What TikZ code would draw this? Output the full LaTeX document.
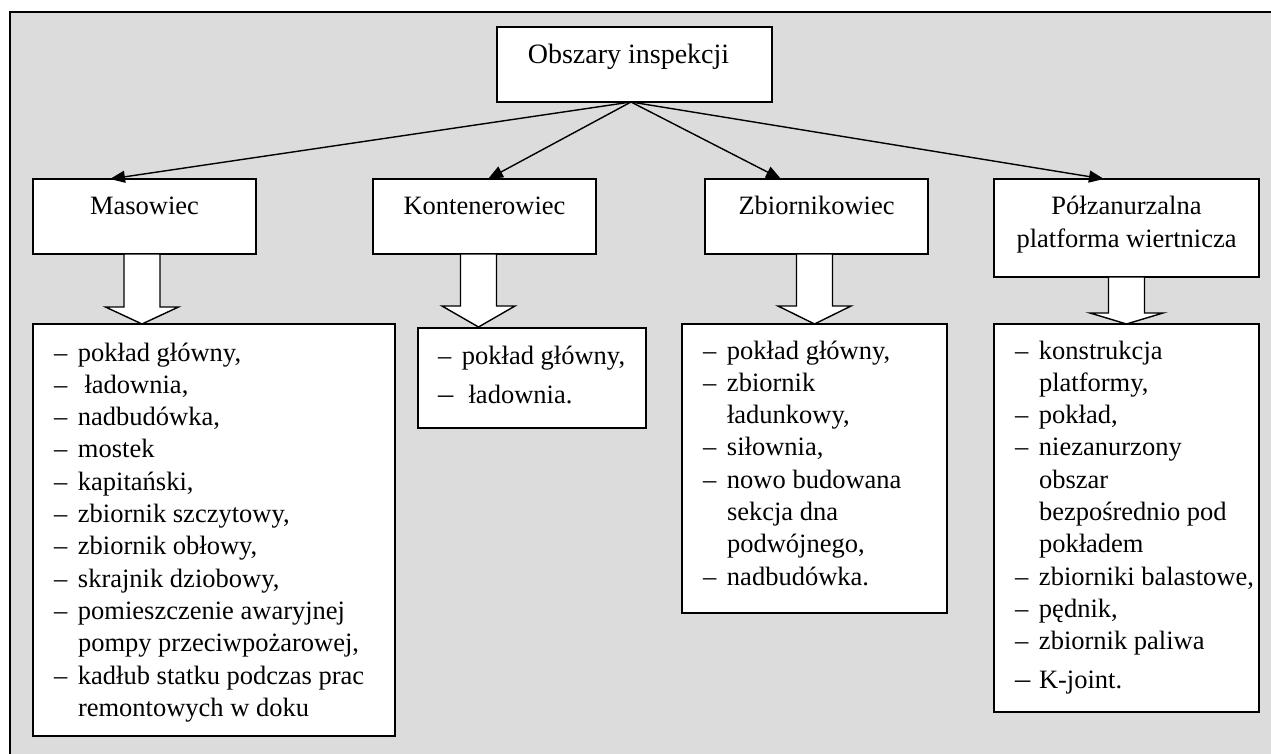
\documentclass[tikz,border=0pt]{standalone}
\usepackage{fontspec}
\setmainfont{Liberation Serif}
\usetikzlibrary{arrows.meta,calc}
\definecolor{bg}{RGB}{220,220,220}
\newcommand{\myfs}{\fontsize{26.5}{32.3}\selectfont}
\newcommand{\mytitlefs}{\fontsize{28}{33}\selectfont}
\newcommand{\dsh}{\makebox[24pt][l]{–}}
\newcommand{\msh}{\makebox[24pt][l]{\scalebox{1.15}[1.1]{–}}}
\newcommand{\ind}{\hspace*{24pt}}
\newcommand{\fatarrow}[3]{\draw[fat] (#1) ++(-18,0) -- ++(36,0) -- ++(0,#2) -- ++(18.5,0) -- ++(-36.5,#3) -- ++(-36.5,-#3) -- ++(18.5,0) -- cycle;}
\begin{document}
\begin{tikzpicture}[x=1pt,y=-1pt,
  box/.style={draw=black,fill=white,line width=1.7pt,inner sep=0pt,outer sep=0pt,anchor=north west},
  txt/.style={inner sep=0pt,outer sep=0pt,anchor=base,font=\myfs},
  listtxt/.style={inner sep=0pt,outer sep=0pt,anchor=base west,font=\myfs},
  conn/.style={line width=1.4pt,-{Triangle[length=15pt,width=12pt]}},
  fat/.style={draw=black,fill=white,line width=1.4pt,line join=miter}]
\useasboundingbox (0,0) rectangle (1271,754);
\clip (0,0) rectangle (1271,754);
\fill[white] (0,0) rectangle (1271,754);
\draw[fill=bg,line width=2pt] (10,12) rectangle (1320,820);
% header boxes
\node[box,minimum width=275pt,minimum height=75pt] (top) at (497,27) {};
\node[box,minimum width=223pt,minimum height=75pt] (hm) at (33,179) {};
\node[box,minimum width=223pt,minimum height=75pt] (hk) at (373,179) {};
\node[box,minimum width=223pt,minimum height=75pt] (hz) at (705,179) {};
\node[box,minimum width=265pt,minimum height=98pt] (hp) at (994,179) {};
% list boxes
\node[box,minimum width=362pt,minimum height=412pt] (lm) at (33,324) {};
\node[box,minimum width=228pt,minimum height=100pt] (lk) at (418,328) {};
\node[box,minimum width=265pt,minimum height=289pt] (lz) at (682,324) {};
\node[box,minimum width=265pt,minimum height=388pt] (lp) at (994,324) {};
% header texts
\node[txt,font=\mytitlefs] (ttop) at (628.5,64) {Obszary inspekcji};
\node[txt] (thm) at (144.5,214.5) {Masowiec};
\node[txt] (thk) at (484.5,214.5) {Kontenerowiec};
\node[txt] (thz) at (816.5,214.5) {Zbiornikowiec};
\node[txt] (thp1) at (1126.5,214.5) {Półzanurzalna};
\node[txt] (thp2) at (1126.5,247.5) {platforma wiertnicza};
% list texts
\node[listtxt] (tlm) at (54,361) {\begin{tabular}[t]{@{}l@{}}
\dsh pokład główny,\\
\dsh\ ładownia,\\
\dsh nadbudówka,\\
\dsh mostek\\
\dsh kapitański,\\
\dsh zbiornik szczytowy,\\
\dsh zbiornik obłowy,\\
\dsh skrajnik dziobowy,\\
\dsh pomieszczenie awaryjnej\\
\ind pompy przeciwpożarowej,\\
\dsh kadłub statku podczas prac\\
\ind remontowych w doku
\end{tabular}};
\node[listtxt] (tlk) at (438,364) {\begin{tabular}[t]{@{}l@{}}
\dsh pokład główny,\\[6.7pt]
\msh\ ładownia.
\end{tabular}};
\node[listtxt] (tlz) at (703,359) {\begin{tabular}[t]{@{}l@{}}
\dsh pokład główny,\\
\dsh zbiornik\\
\ind ładunkowy,\\
\dsh siłownia,\\
\dsh nowo budowana\\
\ind sekcja dna\\
\ind podwójnego,\\
\dsh nadbudówka.
\end{tabular}};
\node[listtxt] (tlp) at (1015,359) {\begin{tabular}[t]{@{}l@{}}
\dsh konstrukcja\\
\ind platformy,\\
\dsh pokład,\\
\dsh niezanurzony\\
\ind obszar\\
\ind bezpośrednio pod\\
\ind pokładem\\
\dsh zbiorniki balastowe,\\
\dsh pędnik,\\
\dsh zbiornik paliwa\\[6pt]
\msh K-joint.
\end{tabular}};
% connectors
\coordinate (o) at ($(top.south west)+(134,0)$);
\draw[conn] (o) -- ($(hm.north west)+(77,0)$);
\draw[conn] (o) -- ($(hk.north west)+(115,0)$);
\draw[conn] (o) -- ($(hz.north west)+(76,0)$);
\draw[conn] (o) -- ($(hp.north west)+(110,0)$);
% block arrows
\coordinate (am) at ($(hm.south west)+(109,0)$);
\coordinate (ak) at ($(hk.south west)+(105.5,0)$);
\coordinate (az) at ($(hz.south west)+(109.5,0)$);
\coordinate (ap) at ($(hp.south west)+(132.5,0)$);
\fatarrow{am}{53}{17}
\fatarrow{ak}{52}{21}
\fatarrow{az}{52}{18}
\fatarrow{ap}{36}{11}
\end{tikzpicture}
\end{document}
